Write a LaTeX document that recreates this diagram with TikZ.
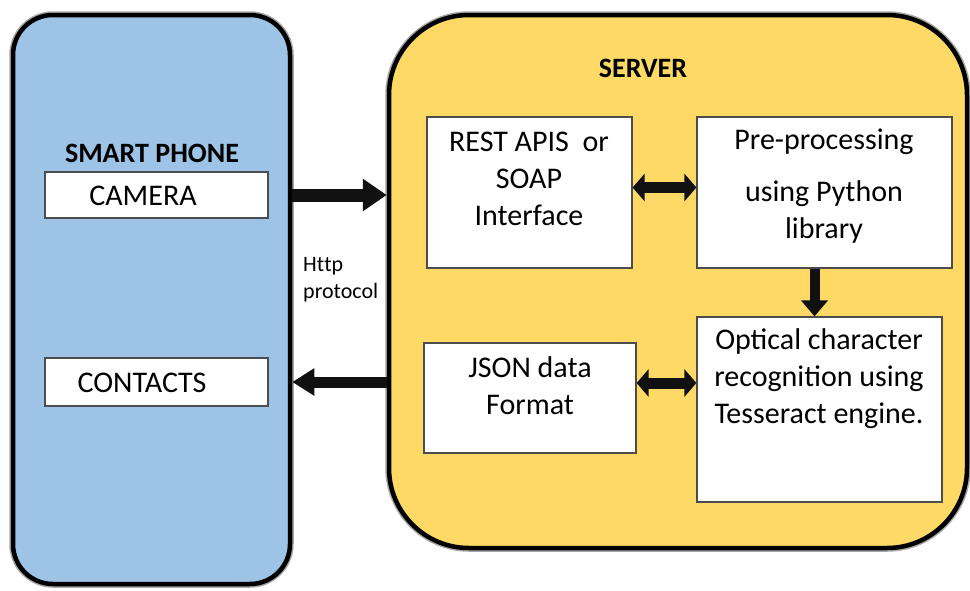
\documentclass[tikz,border=0pt]{standalone}
\usepackage{fontspec}
\setmainfont{Carlito}
\usetikzlibrary{arrows.meta}
\definecolor{phoneblue}{RGB}{157,195,230}
\definecolor{serveryellow}{RGB}{255,217,102}
\definecolor{arrowblack}{RGB}{17,17,17}
\begin{document}
\begin{tikzpicture}[x=1pt,y=-1pt,
  container/.style={draw=black, line width=4.5pt, inner sep=0pt,
    preaction={draw=gray!70, line width=7.5pt}},
  box/.style={draw=gray!60!black, line width=1.2pt, fill=white, inner sep=0pt},
  txt/.style={font=\fontsize{30}{37}\selectfont, align=center, inner sep=0pt},
  title/.style={font=\fontsize{28}{30}\selectfont\bfseries, inner sep=0pt},
  small/.style={font=\fontsize{22}{27}\selectfont, align=left, inner sep=0pt},
  bigarrow/.style={draw=arrowblack, line width=13pt, -{Triangle[length=24pt,width=31pt]}},
  retarrow/.style={draw=arrowblack, line width=11pt, -{Triangle[length=22pt,width=26pt]}},
  dblarrow/.style={draw=arrowblack, line width=11pt, {Triangle[length=12pt,width=27pt]}-{Triangle[length=12pt,width=27pt]}},
  downarrow/.style={draw=arrowblack, line width=10pt, -{Triangle[length=16pt,width=26pt]}}
]
\useasboundingbox (0,0) rectangle (970,590);

% containers
\node[container, fill=phoneblue, rounded corners=40pt,
  minimum width=277pt, minimum height=569pt] (phone) at (151.5,299.5) {};
\node[container, fill=serveryellow, rounded corners=80pt,
  minimum width=578pt, minimum height=533pt] (server) at (678,281.5) {};

% titles
\node[title] (phonetitle) at (152,153) {SMART PHONE};
\node[title] (servertitle) at (643,68) {SERVER};

% phone boxes
\node[box, minimum width=223pt, minimum height=46pt] (cam) at (156.5,195) {};
\node[txt] (camtxt) at (143,196) {CAMERA};
\node[box, minimum width=223pt, minimum height=48pt] (contacts) at (156.5,382) {};
\node[txt] (contxt) at (142,383) {CONTACTS};

% server boxes
\node[box, minimum width=205pt, minimum height=151pt] (rest) at (529.5,192.5) {};
\node[txt] (resttxt) at (529,179) {REST APIS~~or\\SOAP\\Interface};
\node[box, minimum width=255pt, minimum height=151pt] (pre) at (824.5,192.5) {};
\node[txt] (pretxt) at (824,186) {Pre-processing\\[15pt]using Python\\library};
\node[box, minimum width=245pt, minimum height=185pt] (ocr) at (819.5,409.5) {};
\node[txt] (ocrtxt) at (819,379) {Optical character\\recognition using\\Tesseract engine.};
\node[box, minimum width=212pt, minimum height=110pt] (json) at (530,398) {};
\node[txt] (jsontxt) at (530,386) {JSON data\\Format};

% protocol label
\node[small, anchor=west] (http) at (303,280) {Ht\kern0pt tp\\protocol};

% arrows
\draw[bigarrow] (phone.east |- cam) -- (server.west |- cam);
\draw[retarrow] (server.west |- contacts) -- (phone.east |- contacts);
\draw[dblarrow] ([yshift=5pt]rest.east) -- ([yshift=5pt]rest.east -| pre.west);
\draw[dblarrow] ([yshift=15pt]json.east) -- ([yshift=15pt]json.east -| ocr.west);
\draw[downarrow] ([xshift=-10pt]pre.south) -- ([xshift=-10pt]pre.south |- ocr.north);
\end{tikzpicture}
\end{document}
